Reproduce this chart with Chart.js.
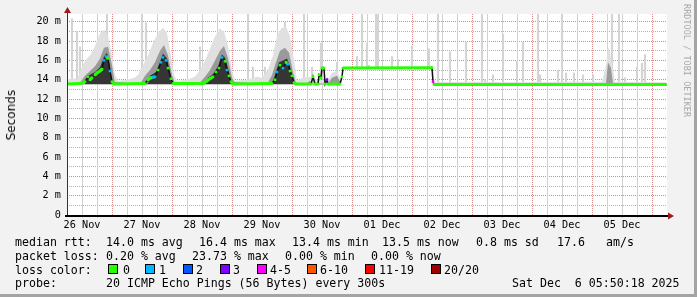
<!DOCTYPE html>
<html>
<head>
<meta charset="utf-8">
<script src="https://cdn.jsdelivr.net/npm/chart.js@4/dist/chart.umd.min.js"></script>
<style>
  body { margin: 0; background: #f2f2f2; }
  #wrap { position: relative; width: 697px; height: 297px; overflow: hidden; }
  #chart { position: absolute; left: 0; top: 0; }
  .t { position: absolute; font-family: "DejaVu Sans Mono", monospace; font-size: 11.6px; line-height: 14px; color: #000; white-space: pre; }
  .sq { position: absolute; width: 10px; height: 10px; box-sizing: border-box; border: 1px solid #000; }
  #ytitle { position: absolute; left: 4px; top: 90px; writing-mode: vertical-rl; transform: rotate(180deg);
            font-family: "DejaVu Sans", sans-serif; font-size: 12px; color: #000; }
  #mark { position: absolute; left: 682px; top: 4px; writing-mode: vertical-rl;
          font-family: "DejaVu Sans Mono", monospace; font-size: 8.4px; color: #a8a8a8; letter-spacing: 0.1px; }
  .frameR { position: absolute; right: 0; top: 0; width: 3px; height: 297px; background: #a4a4a4; }
  .frameB { position: absolute; left: 0; bottom: 0; width: 697px; height: 3px; background: #a4a4a4; }
</style>
</head>
<body>
<div id="wrap">
  <canvas id="chart" width="697" height="297"></canvas>
  <div id="ytitle">Seconds</div>
  <div id="mark">RRDTOOL / TOBI OETIKER</div>
  <div id="legend"></div>
  <div class="frameR"></div>
  <div class="frameB"></div>
</div>
<script>
'use strict';

// hours since 26 Nov 06:00, 240 h on the axis
var xTickLabels = ['26 Nov', '27 Nov', '28 Nov', '29 Nov', '30 Nov', '01 Dec', '02 Dec', '03 Dec', '04 Dec', '05 Dec'];
var yTickLabels = ['0', '2 m', '4 m', '6 m', '8 m', '10 m', '12 m', '14 m', '16 m', '18 m', '20 m'];

var lossLabels = ['0', '1', '2', '3', '4-5', '6-10', '11-19', '20/20'];
var lossColors = ['#26ff00', '#00b8ff', '#0059ff', '#7e00ff', '#ff00ff', '#ff5500', '#ff0000', '#a10000'];

// median rtt (ms) and its loss class
var medianHours = [0, 5.2, 7.2, 8.4, 9.2, 10, 11.2, 12, 13.2, 14, 14.8, 15.6, 16.4, 17.2, 18, 18.8,
    31.2, 32.4, 33.6, 35.2, 36.4, 37.6, 38.4, 39.6, 40.4, 41.6, 42.4,
    54.4, 55.6, 57.2, 58.4, 59.6, 60.8, 62, 63.2, 64, 64.8, 65.6, 66.4,
    82, 83.2, 84, 85.2, 86.4, 87.6, 88.4, 89.2, 90, 90.8, 91.6,
    97.6, 98.4, 99.2, 100.4, 100.8, 101.6, 102, 102.8, 103.2, 104, 104.4, 109.2, 110, 110.4, 146, 146.4, 146.8, 239.6];
var medianMs = [13.55, 13.6, 13.8, 14.3, 14.0, 14.2, 14.5, 14.7, 14.9, 15.1, 16.0, 16.4, 16.2, 14.9, 13.8, 13.55,
    13.6, 14.0, 14.2, 14.3, 15.0, 15.8, 16.3, 16.0, 15.2, 14.1, 13.6,
    13.6, 13.8, 14.1, 14.3, 14.8, 15.2, 16.3, 15.9, 15.0, 14.4, 13.8, 13.55,
    13.6, 14.0, 14.8, 15.5, 15.2, 15.8, 15.6, 14.9, 14.4, 13.7, 13.55,
    13.55, 14.3, 13.55, 13.55, 14.5, 14.2, 15.2, 15.2, 13.55, 14.0, 13.55, 13.55, 14.3, 15.2, 15.25, 13.8, 13.5, 13.5];
var medianLoss = [0, 0, 0, 0, 0, 0, 0, 0, 0, 0, 1, 1, 0, 1, 0, 0,
    0, 0, 0, 1, 0, 1, 1, 1, 0, 0, 0,
    0, 0, 0, 0, 0, 0, 1, 0, 1, 0, 0, 0,
    0, 0, 1, 0, 1, 0, 1, 0, 0, 0, 0,
    0, 0, 0, 0, 0, 0, 0, 0, 0, 3, 0, 0, 0, 0, 0, 4, 0, 0];

// smoke: outer (light), middle, inner (dark) upper edges
var outerHours = [0, 2, 4, 5.2, 7.2, 9.2, 11.2, 13.2, 14.8, 16.4, 18, 19.2, 20.4, 24, 27, 28.4, 30.4, 32.4, 34.4, 36.4,
    38.4, 40, 41.6, 42.8, 44, 48, 51.2, 53.2, 55.2, 57.2, 59.2, 61.2, 62.8, 64.4, 66, 67.2, 72, 76, 78, 80.4,
    82.4, 84, 85.6, 87.6, 89.2, 90.8, 92, 94, 97, 100, 104.4, 106, 108, 109.6, 110, 147, 160, 180, 200, 214,
    215.6, 216.4, 217.2, 218.4, 219.2, 239.6];
var outerMs = [13.9, 14.2, 14.0, 14.8, 16.0, 16.5, 17.5, 18.8, 19.2, 18.5, 16.5, 14.5, 13.9, 14.0, 14.2, 14.5, 15.5, 16.5, 17.8, 18.8,
    19.4, 18.8, 16.5, 14.5, 13.9, 14.0, 14.3, 15.0, 16.0, 17.2, 18.5, 19.2, 19.0, 17.5, 15.0, 13.9, 14.0, 14.3, 14.2, 15.0,
    16.5, 18.5, 19.3, 19.5, 18.5, 16.0, 13.9, 14.2, 14.3, 14.0, 14.0, 14.7, 14.9, 14.0, null, 13.75, 13.8, 13.75, 13.8, 13.8,
    15.5, 17.4, 16.8, 15.0, 13.8, 13.75];
var midHours = [0, 5.2, 7.2, 9.2, 11.2, 13.2, 14.8, 16.4, 18, 19.2, 29.6, 31.2, 33.2, 35.2, 37.2, 38.8, 40.4, 42, 43.2, 53.2,
    55.2, 57.2, 59.2, 61.2, 62.8, 64.4, 66, 67.2, 80.4, 82, 83.6, 85.2, 87.2, 88.8, 90.4, 91.6, 96, 97, 98, 104.4,
    106, 108, 109.6, 110, 147, 215.6, 216.4, 217.6, 218.4, 239.6];
var midMs = [13.6, 13.7, 14.4, 14.9, 15.4, 16.2, 17.3, 17.4, 15.5, 13.6, 13.7, 14.4, 15.0, 15.8, 17.0, 17.6, 16.5, 14.5, 13.6, 13.7,
    14.3, 15.0, 16.0, 17.0, 17.5, 16.2, 14.2, 13.6, 13.7, 14.5, 15.8, 17.0, 17.3, 16.8, 14.8, 13.6, 13.6, 13.9, 13.6, 13.6,
    14.2, 14.4, 13.6, null, 13.6, 13.6, 15.8, 15.2, 13.6, 13.6];
var innerHours = [7.2, 8.4, 11.2, 13.2, 14.8, 16, 17.2, 18, 32.4, 33.2, 35.6, 37.2, 38.4, 40, 41.2, 42,
    55.6, 56.4, 58.4, 60.4, 62, 63.2, 64.8, 65.6, 82, 83.2, 84.8, 86.4, 88, 89.2, 90.4, 91.2];
var innerMs = [13.6, 14.4, 14.8, 15.3, 16.4, 16.8, 15.2, 13.7, 13.6, 14.4, 14.8, 15.8, 16.7, 16.2, 14.8, 13.7,
    13.6, 14.2, 14.6, 15.4, 16.6, 16.3, 14.8, 13.7, 13.6, 14.5, 15.8, 16.0, 16.2, 15.4, 14.0, 13.6];

// single slow pings (max of the 20)
var spikeHours = [2, 4, 5.2, 16, 30, 31.6, 53.2, 61.2, 72.4, 74.4, 79.2, 82.4, 87.2, 94.8, 98, 101.6, 108, 116, 118, 120,
    120.8, 123.6, 124, 124.4, 130, 132.4, 138, 144.8, 148.4, 153.2, 159.6, 166, 167.2, 170.4, 174.4, 180, 182.4, 188.4, 189.2, 196.4,
    198, 199.6, 202.8, 206.4, 210.4, 218, 220.8, 223.2, 228, 230, 231.2];
var spikeTops = [20.3, 19.0, 17.4, 20.8, 20.8, 19.9, 17.4, 19.2, 20.8, 15.3, 15.3, 16.0, 20.0, 20.8, 15.3, 17.8, 15.8, 16.4, 20.8, 17.8,
    15.5, 20.8, 20.8, 20.8, 16.4, 16.1, 17.5, 17.2, 20.8, 16.9, 17.9, 20.8, 14.0, 14.5, 18.7, 15.9, 17.9, 20.8, 14.5, 15.0,
    20.8, 14.7, 14.7, 14.5, 14.5, 20.8, 20.8, 14.2, 15.3, 15.7, 16.6];

function pts(xs, ys) {
    return xs.map(function (x, i) { return { x: x, y: ys[i] }; });
}

var spikeData = spikeHours.map(function (h, i) {
    var base = (h > 110 && h < 146) ? 15.25 : 13.6;
    return { x: h, y: [base, spikeTops[i]] };
});

var MINOR = '#b2b2b2';
var MAJOR = '#d88a8a';

var plotBg = {
    id: 'plotBg',
    beforeDraw: function (chart) {
        var a = chart.chartArea, ctx = chart.ctx;
        ctx.save();
        ctx.fillStyle = '#ffffff';
        ctx.fillRect(a.left, a.top, a.right - a.left, a.bottom - a.top);
        ctx.restore();
    }
};

// vertical grid every 6 h, red at midnight
var timeGrid = {
    id: 'timeGrid',
    beforeDatasetsDraw: function (chart) {
        var a = chart.chartArea, ctx = chart.ctx, xs = chart.scales.x;
        ctx.save();
        ctx.lineWidth = 1;
        for (var h = 6; h < 240; h += 6) {
            var px = Math.round(xs.getPixelForValue(h)) + 0.5;
            var major = (h % 24) === 18;
            ctx.strokeStyle = major ? MAJOR : '#d0d0d0';
            ctx.setLineDash(major ? [1, 1] : []);
            ctx.beginPath();
            ctx.moveTo(px, a.top);
            ctx.lineTo(px, a.bottom + 3);
            ctx.stroke();
        }
        ctx.restore();
    }
};

var axesArrows = {
    id: 'axesArrows',
    afterDatasetsDraw: function (chart) {
        var a = chart.chartArea, ctx = chart.ctx;
        ctx.save();
        ctx.strokeStyle = '#333';
        ctx.lineWidth = 1;
        ctx.beginPath();
        ctx.moveTo(a.left + 0.5, a.bottom);
        ctx.lineTo(a.left + 0.5, a.top - 4);
        ctx.stroke();
        ctx.strokeStyle = '#000';
        ctx.lineWidth = 2;
        ctx.beginPath();
        ctx.moveTo(a.left - 2, a.bottom + 1);
        ctx.lineTo(a.right + 2, a.bottom + 1);
        ctx.stroke();
        ctx.fillStyle = '#9e1b1b';
        ctx.beginPath();
        ctx.moveTo(a.left - 3, a.top - 1);
        ctx.lineTo(a.left + 4, a.top - 1);
        ctx.lineTo(a.left + 0.5, a.top - 7);
        ctx.closePath();
        ctx.fill();
        ctx.beginPath();
        ctx.moveTo(a.right + 1, a.bottom - 2.5);
        ctx.lineTo(a.right + 1, a.bottom + 4.5);
        ctx.lineTo(a.right + 7, a.bottom + 1);
        ctx.closePath();
        ctx.fill();
        ctx.restore();
    }
};

var ctx = document.getElementById('chart').getContext('2d');
var myChart = new Chart(ctx, {
    type: 'line',
    data: {
        datasets: [
            {
                label: 'median',
                data: pts(medianHours, medianMs),
                order: 0,
                borderWidth: 3,
                pointRadius: 1.8,
                pointStyle: 'rect',
                pointBorderWidth: 0,
                pointBackgroundColor: medianLoss.map(function (l) { return lossColors[l]; }),
                segment: {
                    borderColor: function (c) {
                        return Math.abs(c.p1.parsed.y - c.p0.parsed.y) > 0.3 ? '#111' : lossColors[medianLoss[c.p1DataIndex]];
                    },
                    borderWidth: function (c) {
                        return Math.abs(c.p1.parsed.y - c.p0.parsed.y) > 0.3 ? 1.5 : 3;
                    }
                },
                fill: false
            },
            {
                label: 'inner',
                data: pts(innerHours, innerMs),
                order: 1,
                borderWidth: 0,
                pointRadius: 0,
                backgroundColor: '#353535',
                fill: { value: 13.55 }
            },
            {
                label: 'mid',
                data: pts(midHours, midMs),
                order: 2,
                borderWidth: 0,
                pointRadius: 0,
                backgroundColor: '#9a9a9a',
                fill: { value: 13.5 }
            },
            {
                label: 'outer',
                data: pts(outerHours, outerMs),
                order: 3,
                borderWidth: 0,
                pointRadius: 0,
                backgroundColor: '#e0e0e0',
                fill: { value: 13.5 },
                spanGaps: false
            },
            {
                type: 'bar',
                label: 'spikes',
                data: spikeData,
                order: 4,
                backgroundColor: '#d4d4d4',
                barThickness: 1.5,
                borderWidth: 0
            }
        ]
    },
    options: {
        responsive: false,
        animation: false,
        devicePixelRatio: 1,
        layout: { padding: { left: 0, right: 30, top: 14, bottom: 0 } },
        plugins: { legend: { display: false }, tooltip: { enabled: false } },
        scales: {
            x: {
                type: 'linear',
                min: 0,
                max: 240,
                offset: false,
                afterFit: function (s) { s.height = 82; },
                grid: {
                    offset: false,
                    drawOnChartArea: false,
                    drawTicks: true,
                    tickLength: 2,
                    color: 'rgba(0,0,0,0)'
                },
                border: { display: false },
                ticks: {
                    stepSize: 6,
                    autoSkip: false,
                    maxRotation: 0,
                    padding: 2,
                    color: '#000',
                    font: { family: 'DejaVu Sans Mono', size: 10.2 },
                    callback: function (v) {
                        return (v - 6) % 24 === 0 ? xTickLabels[(v - 6) / 24] : '';
                    }
                }
            },
            y: {
                min: 0,
                max: 20.8,
                afterFit: function (s) { s.width = 67; },
                grid: {
                    drawTicks: false,
                    lineWidth: 1,
                    color: function (c) {
                        var v = c.tick.value;
                        if (v === 0) return 'rgba(0,0,0,0)';
                        return v % 2 === 0 ? MAJOR : MINOR;
                    }
                },
                border: { display: false, dash: [1, 1] },
                ticks: {
                    stepSize: 1,
                    autoSkip: false,
                    includeBounds: false,
                    padding: 6,
                    color: '#000',
                    font: { family: 'DejaVu Sans Mono', size: 10.2 },
                    callback: function (v) {
                        return v % 2 === 0 ? yTickLabels[v / 2] : '';
                    }
                }
            }
        }
    },
    plugins: [plotBg, timeGrid, axesArrows]
});

// legend block under the graph
var legendLines = [
    [235, [[16, 'median rtt:'], [107, '14.0 ms avg'], [200, '16.4 ms max'], [293, '13.4 ms min'], [383, '13.5 ms now'], [477, '0.8 ms sd'], [558, '17.6'], [607, 'am/s']]],
    [248.5, [[16, 'packet loss:'], [107, '0.20 % avg'], [193, '23.73 % max'], [286, '0.00 % min'], [372, '0.00 % now']]],
    [262.5, [[16, 'loss color:']]],
    [276, [[16, 'probe:'], [107, '20 ICMP Echo Pings (56 Bytes) every 300s'], [513, 'Sat Dec  6 05:50:18 2025']]]
];
var lossSquareX = [108, 145, 183, 220, 257, 307, 365, 431];
var lossLabelX = [124, 160, 197, 234, 271, 321, 380, 445];

var legend = document.getElementById('legend');
legendLines.forEach(function (line) {
    line[1].forEach(function (item) {
        var d = document.createElement('div');
        d.className = 't';
        d.style.left = (item[0] - 1) + 'px';
        d.style.top = line[0] + 'px';
        d.textContent = item[1];
        legend.appendChild(d);
    });
});
lossLabels.forEach(function (lab, i) {
    var s = document.createElement('div');
    s.className = 'sq';
    s.style.left = lossSquareX[i] + 'px';
    s.style.top = '264px';
    s.style.background = lossColors[i];
    legend.appendChild(s);
    var d = document.createElement('div');
    d.className = 't';
    d.style.left = (lossLabelX[i] - 1) + 'px';
    d.style.top = '262.5px';
    d.textContent = lab;
    legend.appendChild(d);
});
</script>
</body>
</html>
